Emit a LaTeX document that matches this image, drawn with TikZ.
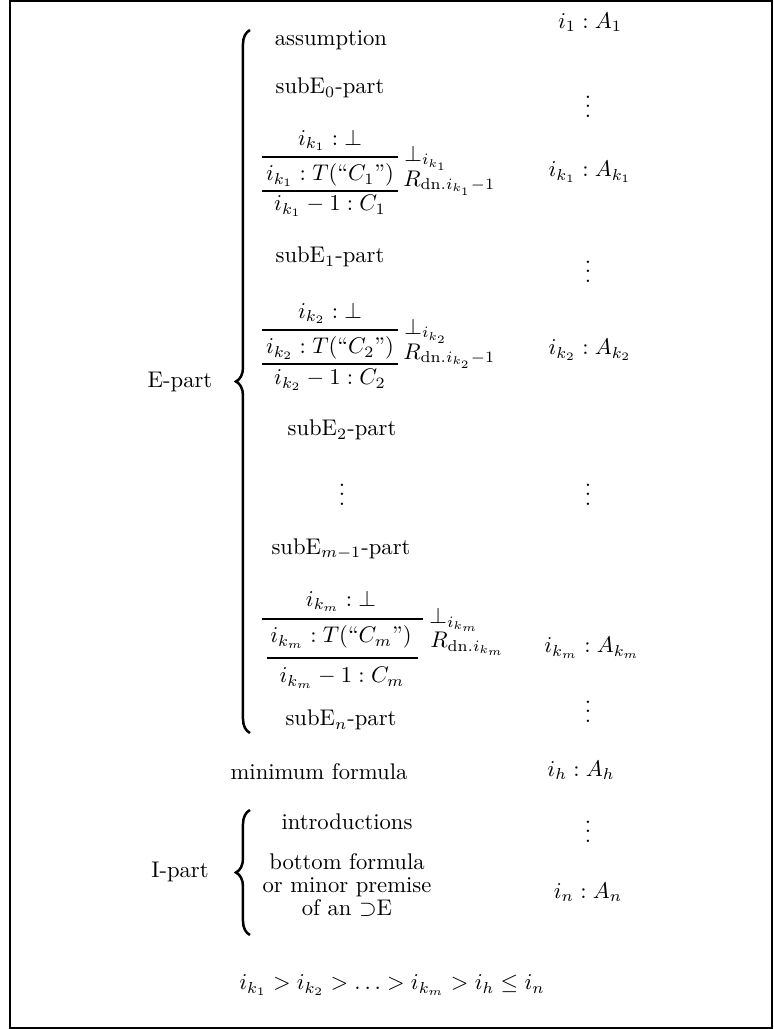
\documentclass[tikz,border=0pt]{standalone}
\usepackage{tikz}
\usetikzlibrary{positioning, calc, decorations.pathreplacing}

\begin{document}
\begin{tikzpicture}[x=0.4419pt, y=-0.4419pt]
	\tikzset{txt/.style={inner sep=0pt}}
	\tikzset{lbl/.style={inner sep=0pt, anchor=west}}
	\tikzset{rule/.style={line width=0.45pt}}
	\tikzset{partbrace/.style={decorate, decoration={brace, amplitude=6.2pt}, line width=1.1pt}}
	
	\useasboundingbox (0,0) rectangle (773,1029);
	\draw[line width=0.9pt] (10,1) rectangle (772,1028);
	
	% E-part
	\node(epart) at (180,382) [txt] {E-part};
	\coordinate(etop) at (250,30);
	\coordinate(ebot) at (250,733);
	\draw[partbrace] (ebot) -- (etop);
	
	\node(assum) at (331,40) [txt] {assumption};
	\node(a1) at (590,22) [txt] {$i_1 : A_1$};
	
	\node(sub0) at (330,88) [txt] {subE$_0$-part};
	\node(vd1) at (588,100) [txt] {$\vdots$};
	
	% first rule
	\node(f1top) at (330,140) [txt] {$i_{k_1} : \bot$};
	\node(f1mid) at (330,175) [txt] {$i_{k_1} : T(\mbox{``}C_1\mbox{''})$};
	\node(f1bot) at (330,206) [txt] {$i_{k_1} - 1 : C_1$};
	\draw[rule] (262,157) -- (398,157);
	\draw[rule] (262,191) -- (398,191);
	\node(f1r1) at (404,158) [lbl] {$\bot_{i_{k_1}}$};
	\node(f1r2) at (403,183) [lbl] {$R_{\mathrm{dn}.i_{k_1}-1}$};
	\node(ak1) at (590,172) [txt] {$i_{k_1} : A_{k_1}$};
	
	\node(sub1) at (330,257) [txt] {subE$_1$-part};
	\node(vd2) at (588,265) [txt] {$\vdots$};
	
	% second rule
	\node(f2top) at (330,313) [txt] {$i_{k_2} : \bot$};
	\node(f2mid) at (330,348) [txt] {$i_{k_2} : T(\mbox{``}C_2\mbox{''})$};
	\node(f2bot) at (330,380) [txt] {$i_{k_2} - 1 : C_2$};
	\draw[rule] (262,330) -- (398,330);
	\draw[rule] (262,364) -- (398,364);
	\node(f2r1) at (404,331) [lbl] {$\bot_{i_{k_2}}$};
	\node(f2r2) at (403,356) [lbl] {$R_{\mathrm{dn}.i_{k_2}-1}$};
	\node(ak2) at (590,350) [txt] {$i_{k_2} : A_{k_2}$};
	
	\node(sub2) at (342,430) [txt] {subE$_2$-part};
	\node(vd3) at (342,488) [txt] {$\vdots$};
	\node(vd4) at (588,488) [txt] {$\vdots$};
	
	\node(subm1) at (341,549) [txt] {subE$_{m-1}$-part};
	
	% last rule
	\node(f3top) at (341,601) [txt] {$i_{k_m} : \bot$};
	\node(f3mid) at (341,637) [txt] {$i_{k_m} : T(\mbox{``}C_m\mbox{''})$};
	\node(f3bot) at (342,678) [txt] {$i_{k_m} - 1 : C_m$};
	\draw[rule] (262,619) -- (423,619);
	\draw[rule] (267,658) -- (418,658);
	\node(f3r1) at (429,620) [lbl] {$\bot_{i_{k_m}}$};
	\node(f3r2) at (430,644) [lbl] {$R_{\mathrm{dn}.i_{k_m}}$};
	\node(akm) at (592,648) [txt] {$i_{k_m} : A_{k_m}$};
	
	\node(vd5) at (588,705) [txt] {$\vdots$};
	\node(subn) at (341,720) [txt] {subE$_n$-part};
	
	% minimum
	\node(minf) at (319,772) [txt] {minimum formula};
	\node(ah) at (581,770) [txt] {$i_h : A_h$};
	
	% I-part
	\node(ipart) at (180,872) [txt] {I-part};
	\coordinate(itop) at (250,810);
	\coordinate(ibot) at (250,935);
	\draw[partbrace] (ibot) -- (itop);
	\node(intro) at (347,822) [txt] {introductions};
	\node(vd6) at (588,825) [txt] {$\vdots$};
	\node(bottom) at (347,885) [txt, align=center] {bottom formula\\[-2pt] or minor premise\\[-2pt] of an $\supset$E};
	\node(an) at (588,892) [txt] {$i_n : A_n$};
	
	\node(chain) at (392,985) [txt] {$i_{k_1} > i_{k_2} > \ldots > i_{k_m} > i_h \leq i_n$};
	
\end{tikzpicture}
\end{document}
